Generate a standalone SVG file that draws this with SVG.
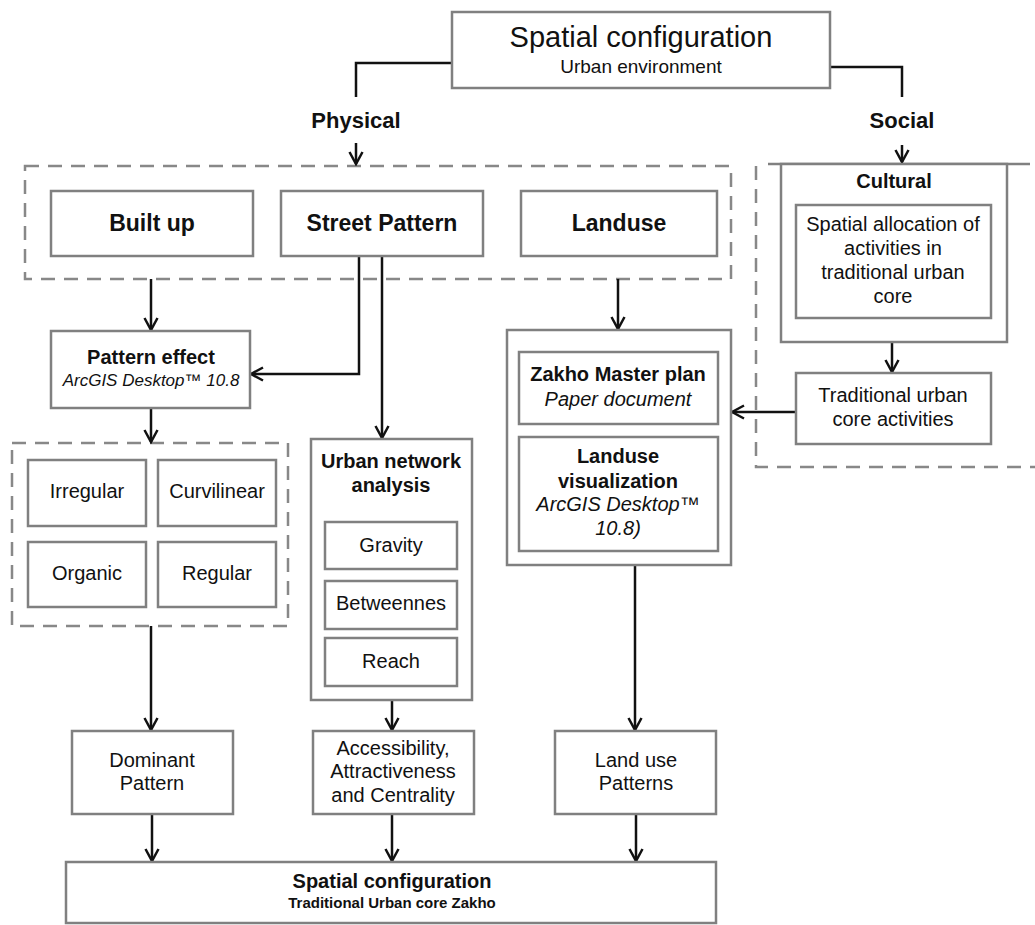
<svg xmlns="http://www.w3.org/2000/svg" width="1035" height="925" viewBox="0 0 1035 925">
<style>
.box{fill:#fff;stroke:#808080;stroke-width:2.5}
.dash{fill:none;stroke:#888;stroke-width:2.5;stroke-dasharray:14 9}
.con{fill:none;stroke:#111;stroke-width:2.5}
.arr{fill:none;stroke:#111;stroke-width:2.5;marker-end:url(#ah)}
text{font-family:"Liberation Sans",Arial,sans-serif;fill:#111;text-anchor:middle}
.b{font-weight:bold}
.i{font-style:italic}
.t20{font-size:20px}
.t23{font-size:23px;font-weight:bold}
</style>
<defs>
<marker id="ah" markerUnits="userSpaceOnUse" viewBox="-14 -8 16 16" refX="0" refY="0" markerWidth="16" markerHeight="16" orient="auto">
<path d="M-12,-6.5 L0,0 L-12,6.5" fill="none" stroke="#111" stroke-width="2.5"/>
</marker>
</defs>
<rect width="1035" height="925" fill="#fff"/>

<g id="groups">
<rect id="physical-group" class="dash" x="25" y="166" width="706" height="113"/>
<path id="social-group" class="dash" d="M756,166 V467 H1035"/>
<line x1="768" y1="164" x2="1030" y2="164" stroke="#808080" stroke-width="2.5"/>
<rect id="pattern-group" class="dash" x="12" y="443" width="276" height="183"/>
</g>

<g id="connectors">
<path class="con" d="M452,63 H356 V97"/>
<path class="con" d="M830,67 H902 V97"/>
<path class="arr" d="M356,143 V164"/>
<path class="arr" d="M902,145 V162"/>
<path class="arr" d="M151,279 V330"/>
<path class="arr" d="M359,256 V374 H251"/>
<path class="arr" d="M382,256 V438"/>
<path class="arr" d="M618,279 V329"/>
<path class="arr" d="M892,342 V372"/>
<path class="arr" d="M796,412 H732"/>
<path class="arr" d="M151,408 V442"/>
<path class="arr" d="M151,626 V730"/>
<path class="arr" d="M392,700 V730"/>
<path class="arr" d="M635,565 V730"/>
<path class="arr" d="M152,814 V861"/>
<path class="arr" d="M392,814 V861"/>
<path class="arr" d="M636,814 V861"/>
</g>

<g id="top">
<rect class="box" x="452" y="12" width="378" height="76"/>
<text x="641" y="47" font-size="29">Spatial configuration</text>
<text x="641" y="73" font-size="19">Urban environment</text>
</g>
<g id="physical"><text class="b" x="356" y="128" font-size="22">Physical</text></g>
<g id="social"><text class="b" x="902" y="128" font-size="22">Social</text></g>

<g id="builtup">
<rect class="box" x="51" y="191" width="202" height="65"/>
<text class="t23" x="152" y="231">Built up</text>
</g>
<g id="street">
<rect class="box" x="281" y="191" width="202" height="65"/>
<text class="t23" x="382" y="231">Street Pattern</text>
</g>
<g id="landuse">
<rect class="box" x="521" y="191" width="196" height="65"/>
<text class="t23" x="619" y="231">Landuse</text>
</g>

<g id="cultural">
<rect class="box" x="781" y="164" width="226" height="178"/>
<text class="t20 b" x="894" y="188">Cultural</text>
</g>
<g id="spatial-allocation">
<rect class="box" x="796" y="205" width="195" height="113"/>
<text class="t20" x="893" y="231">Spatial allocation of</text>
<text class="t20" x="893" y="255">activities in</text>
<text class="t20" x="893" y="279">traditional urban</text>
<text class="t20" x="893" y="303">core</text>
</g>
<g id="traditional">
<rect class="box" x="796" y="373" width="195" height="71"/>
<text class="t20" x="893" y="402">Traditional urban</text>
<text class="t20" x="893" y="426">core activities</text>
</g>

<g id="landuse-analysis">
<rect class="box" x="507" y="330" width="224" height="235"/>
</g>
<g id="zakho">
<rect class="box" x="519" y="352" width="199" height="72"/>
<text class="t20 b" x="618" y="381">Zakho Master plan</text>
<text class="t20 i" x="618" y="406">Paper document</text>
</g>
<g id="landuse-vis">
<rect class="box" x="519" y="437" width="199" height="114"/>
<text class="t20 b" x="618" y="463">Landuse</text>
<text class="t20 b" x="618" y="488">visualization</text>
<text class="t20 i" x="618" y="511">ArcGIS Desktop™</text>
<text class="t20 i" x="618" y="535">10.8)</text>
</g>

<g id="pattern-effect">
<rect class="box" x="51" y="331" width="199" height="77"/>
<text class="t20 b" x="151" y="364">Pattern effect</text>
<text class="i" x="151" y="386" font-size="17">ArcGIS Desktop™ 10.8</text>
</g>
<g id="irregular"><rect class="box" x="28" y="460" width="118" height="66"/><text class="t20" x="87" y="498">Irregular</text></g>
<g id="curvilinear"><rect class="box" x="158" y="460" width="118" height="66"/><text class="t20" x="217" y="498">Curvilinear</text></g>
<g id="organic"><rect class="box" x="28" y="542" width="118" height="65"/><text class="t20" x="87" y="580">Organic</text></g>
<g id="regular"><rect class="box" x="158" y="542" width="118" height="65"/><text class="t20" x="217" y="580">Regular</text></g>

<g id="urban-network">
<rect class="box" x="311" y="439" width="161" height="261"/>
<text class="t20 b" x="391" y="468">Urban network</text>
<text class="t20 b" x="391" y="492">analysis</text>
</g>
<g id="gravity"><rect class="box" x="325" y="522" width="132" height="47"/><text class="t20" x="391" y="552">Gravity</text></g>
<g id="betweennes"><rect class="box" x="325" y="581" width="132" height="48"/><text class="t20" x="391" y="610">Betweennes</text></g>
<g id="reach"><rect class="box" x="325" y="638" width="132" height="48"/><text class="t20" x="391" y="668">Reach</text></g>

<g id="dominant">
<rect class="box" x="72" y="731" width="161" height="83"/>
<text class="t20" x="152" y="767">Dominant</text>
<text class="t20" x="152" y="790">Pattern</text>
</g>
<g id="accessibility">
<rect class="box" x="313" y="731" width="161" height="83"/>
<text class="t20" x="393" y="755">Accessibility,</text>
<text class="t20" x="393" y="778">Attractiveness</text>
<text class="t20" x="393" y="802">and Centrality</text>
</g>
<g id="landuse-patterns">
<rect class="box" x="555" y="731" width="161" height="83"/>
<text class="t20" x="636" y="767">Land use</text>
<text class="t20" x="636" y="790">Patterns</text>
</g>

<g id="result">
<rect class="box" x="66" y="862" width="650" height="61"/>
<text class="t20 b" x="392" y="888">Spatial configuration</text>
<text class="b" x="392" y="908" font-size="15">Traditional Urban core Zakho</text>
</g>
</svg>
